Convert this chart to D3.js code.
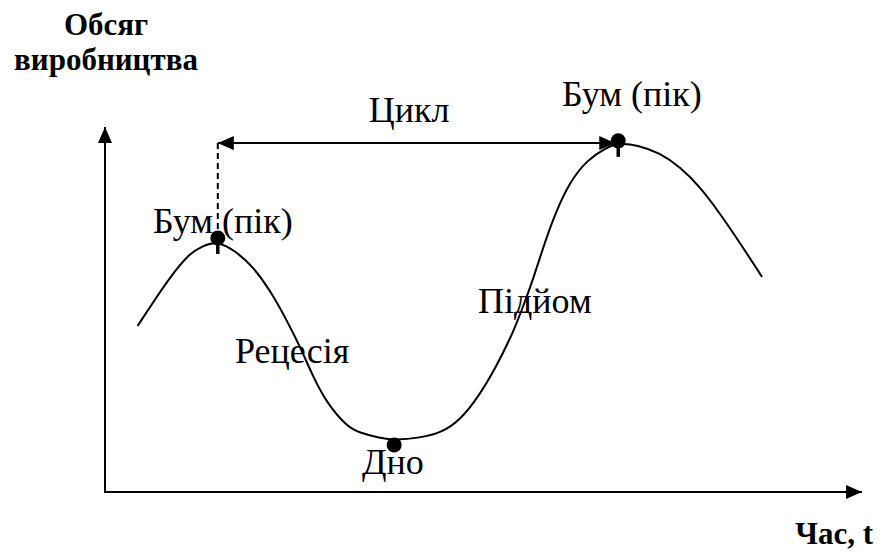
<!DOCTYPE html>
<html>
<head>
<meta charset="utf-8">
<script src="https://cdn.jsdelivr.net/npm/d3@7"></script>
</head>
<body style="margin:0">
<svg id="cycle"></svg>
<script>
// business cycle curve (t = time, v = output volume, both 0..100)
var curveT = [4.3, 6.3, 8.6, 11.2, 12.9, 14.8, 17.4, 19.6, 21.8, 24.0, 25.8, 27.5, 29.3, 32.0, 33.7, 36.3, 38.2, 41.6, 44.6, 46.9, 49.3, 51.6, 53.9, 55.3, 56.6, 57.8, 59.4, 61.4, 63.7, 66.3, 67.9, 70.3, 73.3, 76.0, 78.6, 81.2, 83.9, 86.8];
var curveV = [45.5, 51.8, 58.9, 65.5, 67.4, 68.8, 65.8, 61.6, 55.3, 47.1, 39.7, 31.5, 24.4, 17.8, 16.2, 14.8, 14.2, 14.8, 16.4, 19.7, 26.0, 34.0, 43.6, 51.2, 58.6, 66.5, 76.0, 85.0, 91.0, 94.5, 95.6, 95.1, 92.9, 89.0, 83.6, 76.4, 68.2, 58.9];

// key points: peak, trough, peak
var pointNames = ["Бум (пік)", "Дно", "Бум (пік)"];
var pointT = [14.9, 38.2, 67.8];
var pointV = [69.6, 12.9, 96.2];

var phaseNames = ["Рецесія", "Підйом"];
var cycleName = "Цикл";
var yTitle = ["Обсяг", "виробництва"];
var xTitle = "Час, t";

var width = 882, height = 554;
var x0 = 105, y0 = 492;

var x = d3.scaleLinear().domain([0, 100]).range([x0, 862]);
var y = d3.scaleLinear().domain([0, 100]).range([y0, 127]);

var svg = d3.select("#cycle")
    .attr("width", width)
    .attr("height", height);

var defs = svg.append("defs");
defs.append("marker")
    .attr("id", "head")
    .attr("viewBox", "0 0 16 14")
    .attr("refX", 16).attr("refY", 7)
    .attr("markerWidth", 16).attr("markerHeight", 14)
    .attr("markerUnits", "userSpaceOnUse")
    .attr("orient", "auto-start-reverse")
    .append("path")
    .attr("d", "M0,0 L16,7 L0,14 Z")
    .attr("fill", "#000");

// axes
svg.append("line")
    .attr("x1", x(0)).attr("y1", y(0))
    .attr("x2", x(0)).attr("y2", y(100))
    .attr("stroke", "#000").attr("stroke-width", 2)
    .attr("marker-end", "url(#head)");
svg.append("line")
    .attr("x1", x(0) - 1).attr("y1", y(0))
    .attr("x2", x(100)).attr("y2", y(0))
    .attr("stroke", "#000").attr("stroke-width", 2)
    .attr("marker-end", "url(#head)");

// the curve
var line = d3.line()
    .x(function(d, i) { return x(curveT[i]); })
    .y(function(d, i) { return y(curveV[i]); })
    .curve(d3.curveBasis);
svg.append("path")
    .datum(curveT)
    .attr("d", line)
    .attr("fill", "none")
    .attr("stroke", "#000")
    .attr("stroke-width", 2);

// cycle arrow between the two peaks
var arrowV = 95.6;
svg.append("line")
    .attr("x1", x(pointT[0])).attr("y1", y(arrowV))
    .attr("x2", x(pointT[2]) - 3).attr("y2", y(arrowV))
    .attr("stroke", "#000").attr("stroke-width", 2)
    .attr("marker-start", "url(#head)")
    .attr("marker-end", "url(#head)");

// dashed drop from arrow to first peak
svg.append("line")
    .attr("x1", x(pointT[0])).attr("y1", y(arrowV))
    .attr("x2", x(pointT[0])).attr("y2", y(pointV[0]))
    .attr("stroke", "#000").attr("stroke-width", 2)
    .attr("stroke-dasharray", "6,4");

// small ticks under the peaks
[0, 2].forEach(function(i) {
    svg.append("line")
        .attr("x1", x(pointT[i])).attr("y1", y(pointV[i]))
        .attr("x2", x(pointT[i])).attr("y2", y(pointV[i]) + 16)
        .attr("stroke", "#000").attr("stroke-width", 3.5);
});

svg.selectAll("circle.pt")
    .data(pointT)
    .enter().append("circle")
    .attr("class", "pt")
    .attr("cx", function(d) { return x(d); })
    .attr("cy", function(d, i) { return y(pointV[i]); })
    .attr("r", 7.5)
    .attr("fill", "#000");

// labels
function label(px, py, txt, anchor) {
    svg.append("text")
        .attr("x", px).attr("y", py)
        .attr("text-anchor", anchor || "start")
        .attr("font-size", 36)
        .style("font-family", "'Liberation Serif'")
        .text(txt);
}
label(153, 233, pointNames[0]);
label(362, 474, pointNames[1]);
label(562, 106, pointNames[2]);
label(235, 363, phaseNames[0]);
label(478, 313, phaseNames[1]);
label(409, 122, cycleName, "middle");

svg.selectAll("text.ytitle")
    .data(yTitle)
    .enter().append("text")
    .attr("class", "ytitle")
    .attr("x", 106)
    .attr("y", function(d, i) { return 35 + i * 35; })
    .attr("text-anchor", "middle")
    .attr("font-size", 31)
    .attr("font-weight", "bold")
    .style("font-family", "'Liberation Serif'")
    .text(function(d) { return d; });

svg.append("text")
    .attr("x", 873).attr("y", 544)
    .attr("text-anchor", "end")
    .attr("font-size", 31)
    .attr("font-weight", "bold")
    .style("font-family", "'Liberation Serif'")
    .text(xTitle);
</script>
</body>
</html>
